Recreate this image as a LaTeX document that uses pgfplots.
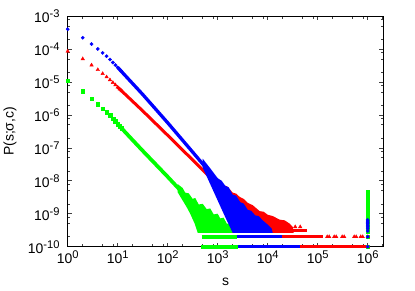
\documentclass[border=0pt]{standalone}
\usepackage{fontspec}
\setmainfont{Liberation Sans}
\usepackage{pgfplots}
\pgfplotsset{compat=1.18}
\definecolor{gpb}{RGB}{0,0,255}
\definecolor{gpr}{RGB}{255,0,0}
\definecolor{gpg}{RGB}{0,255,0}
\newcommand\sups[1]{\raisebox{5bp}{\fontsize{11.2}{12}\selectfont #1}}
\begin{document}
\begin{tikzpicture}
\begin{axis}[
  scale only axis, width=315.6bp, height=230.7bp,
  xmode=log, ymode=log, xmin=1, xmax=2.05e6, ymin=1e-10, ymax=1e-3,
  clip=false,
  axis line style={line width=0.8bp, black},
  tick style={line width=0.6bp, black!75},
  tick align=inside,
  major tick length=4bp, minor tick length=2.5bp,
  xtick={1,10,100,1000,10000,100000,1000000},
  xticklabels={10\sups{0},10\sups{1},10\sups{2},10\sups{3},10\sups{4},10\sups{5},10\sups{6}},
  minor xtick={2,5,8,20,50,80,200,500,800,2000,5000,8000,2e4,5e4,8e4,2e5,5e5,8e5,2e6},
  ytick={1e-10,1e-9,1e-8,1e-7,1e-6,1e-5,1e-4,1e-3},
  yticklabels={10\sups{-10},10\sups{-9},10\sups{-8},10\sups{-7},10\sups{-6},10\sups{-5},10\sups{-4},10\sups{-3}},
  minor ytick={2e-10,5e-10,8e-10,2e-9,5e-9,8e-9,2e-8,5e-8,8e-8,2e-7,5e-7,8e-7,2e-6,5e-6,8e-6,2e-5,5e-5,8e-5,2e-4,5e-4,8e-4},
  every tick label/.append style={font=\fontsize{14}{16}\selectfont},
  xticklabel style={anchor=base, yshift=-16.6bp, inner sep=0pt},
  yticklabel style={anchor=east, xshift=-8bp, inner sep=0pt},
  xlabel={s}, ylabel={P(s;σ,c)},
  label style={font=\fontsize{14}{16}\selectfont},
  xlabel style={at={(axis description cs:0.5,0)}, anchor=base, yshift=-39bp, inner sep=0pt},
  ylabel style={at={(axis description cs:-0.1828,0.5)}, anchor=center, inner sep=0pt},
]
% ---------------- green ----------------
\addplot[only marks, mark=square*, mark size=1.85bp, gpg, mark options={draw=none, fill=gpg}] coordinates {
(1,1.10e-5) (2,5.13e-6) (3,3.09e-6) (4,2.09e-6) (5,1.55e-6) (6,1.20e-6) (7,9.55e-7) (8,7.59e-7) (9,6.31e-7) (10,5.25e-7) (11,4.47e-7) (12,3.89e-7)};
\addplot[gpg, line width=3.7bp, no marks] coordinates {
(10,5.25e-7) (17.62,2.09e-7) (31.62,8.13e-8) (100,1.32e-8) (176.2,5.25e-9) (199.5,4.27e-9)};
\addplot[fill=gpg, draw=none, no marks] coordinates {
(158.5,7.94e-9) (199.5,6.03e-9) (223.9,4.37e-9) (263.0,4.17e-9) (316.2,2.82e-9) (354.8,3.02e-9) (416.9,1.91e-9) (501.2,2.00e-9) (602.6,1.38e-9) (707.9,1.45e-9) (831.8,9.55e-10) (1000,1.00e-9) (1122,7.24e-10) (1318,7.59e-10) (1514,5.01e-10) (1778,5.01e-10) (1995,3.80e-10) (2344,3.55e-10) (2344,2.63e-10) (398.1,2.63e-10) (346.7,5.01e-10) (281.8,1e-9) (239.9,1.58e-9) (199.5,2.51e-9) (158.5,4.47e-9)};
\addplot[gpg, line width=3.7bp, no marks] coordinates {(478.6,2e-10) (2399,2e-10)};
\addplot[gpg, line width=3.7bp, no marks] coordinates {(467.7,1e-10) (2570,1e-10)};
\addplot[only marks, mark=square*, mark size=1.85bp, gpg, mark options={draw=none, fill=gpg}] coordinates {
(1e6,4.4e-9) (1e6,4.0e-9) (1e6,3.5e-9) (1e6,3.0e-9) (1e6,2.5e-9) (1e6,2.0e-9) (1e6,1.7e-9) (1e6,1.5e-9) (1e6,1.3e-9) (1e6,1.1e-9) (1e6,1.0e-9) (1e6,9e-10) (1e6,8e-10) (1e6,7e-10) (1e6,6e-10) (1e6,5e-10) (1e6,4e-10) (1e6,3e-10) (1e6,2e-10) (1e6,1e-10)};
% ---------------- red ----------------
\addplot[only marks, mark=triangle*, mark size=2bp, gpr, mark options={draw=none, fill=gpr}] coordinates {
(1,8.51e-5) (2,5.01e-5) (3,3.24e-5) (4,2.34e-5) (5,1.78e-5) (6,1.41e-5) (7,1.15e-5) (8,9.55e-6) (9,8.13e-6) (10,6.92e-6) (11,6.03e-6) (12,5.37e-6)};
\addplot[gpr, line width=3.0bp, no marks] coordinates {
(10,6.92e-6) (31.62,1.32e-6) (100,2.40e-7) (316.2,4.27e-8) (1000,7.59e-9)};
\addplot[fill=gpr, draw=none, no marks] coordinates {
(794.3,1.51e-8) (1000,1.10e-8) (1259,7.59e-9) (1585,6.61e-9) (1995,4.37e-9) (2344,4.07e-9) (2754,3.24e-9) (3311,2.82e-9) (3981,2.14e-9) (5012,1.82e-9) (6918,1.20e-9) (8318,1.15e-9) (10000,9.33e-10) (12590,8.51e-10) (17380,6.61e-10) (21880,6.31e-10) (27540,5.01e-10) (31620,3.98e-10) (33110,2.63e-10) (1995,2.63e-10) (1000,5.01e-9) (794.3,1e-8)};
\addplot[gpr, line width=3.0bp, no marks] coordinates {(25120,3e-10) (60260,3e-10)};
\addplot[gpr, line width=3.0bp, no marks] coordinates {(7943,2e-10) (125900,2e-10)};
\addplot[gpr, line width=3.0bp, no marks] coordinates {(7943,1e-10) (1e6,1e-10)};
\addplot[only marks, mark=triangle*, mark size=2bp, gpr, mark options={draw=none, fill=gpr}] coordinates {
(1.549e5,2e-10) (1.698e5,2e-10) (2.138e5,2e-10) (2.344e5,2e-10) (3.090e5,2e-10) (3.388e5,2e-10) (5.370e5,2e-10) (5.888e5,2e-10) (7.244e5,2e-10) (7.943e5,2e-10) (35480,4e-10) (44670,4e-10) (1e6,2e-10) (1e6,1e-10)};
% ---------------- blue ----------------
\addplot[only marks, mark=*, mark size=1.65bp, gpb, mark options={draw=none, fill=gpb}] coordinates {
(1,3.98e-4) (2,2.19e-4) (3,1.41e-4) (4,1.00e-4) (5,7.59e-5) (6,6.03e-5) (7,4.79e-5) (8,3.89e-5) (9,3.24e-5) (10,2.75e-5) (11,2.40e-5) (12,2.09e-5)};
\addplot[gpb, line width=3.3bp, no marks] coordinates {
(10,2.75e-5) (31.62,4.17e-6) (100,5.75e-7) (316.2,7.41e-8) (631,2.14e-8) (891,1.15e-8)};
\addplot[fill=gpb, draw=none, no marks] coordinates {
(501.2,4.68e-8) (707.9,2.40e-8) (1000,1.20e-8) (1202,1.00e-8) (1413,7.08e-9) (1660,6.31e-9) (1995,3.80e-9) (2344,3.55e-9) (2818,2.24e-9) (3311,2.04e-9) (3981,1.32e-9) (4677,1.23e-9) (5623,8.91e-10) (6607,8.51e-10) (7943,6.31e-10) (10000,4.68e-10) (12020,3.55e-10) (12590,2.63e-10) (1995,2.63e-10) (1413,7.94e-10) (1000,2.51e-9) (707.9,7.94e-9) (501.2,2.51e-8)};
\addplot[gpb, line width=3.3bp, no marks] coordinates {(2399,2e-10) (19050,2e-10)};
\addplot[gpb, line width=3.3bp, no marks] coordinates {(2570,1e-10) (44670,1e-10)};
\addplot[only marks, mark=*, mark size=1.65bp, gpb, mark options={draw=none, fill=gpb}] coordinates {
(1e6,6.5e-10) (1e6,6e-10) (1e6,5.5e-10) (1e6,5e-10) (1e6,4.5e-10) (1e6,4e-10) (1e6,3.5e-10) (1e6,3e-10) (1e6,2e-10) (1e6,1e-10)};
\end{axis}
\pgfresetboundingbox
\path (-67.7bp,-44.3bp) rectangle (347.3bp,246.7bp);
\end{tikzpicture}
\end{document}
